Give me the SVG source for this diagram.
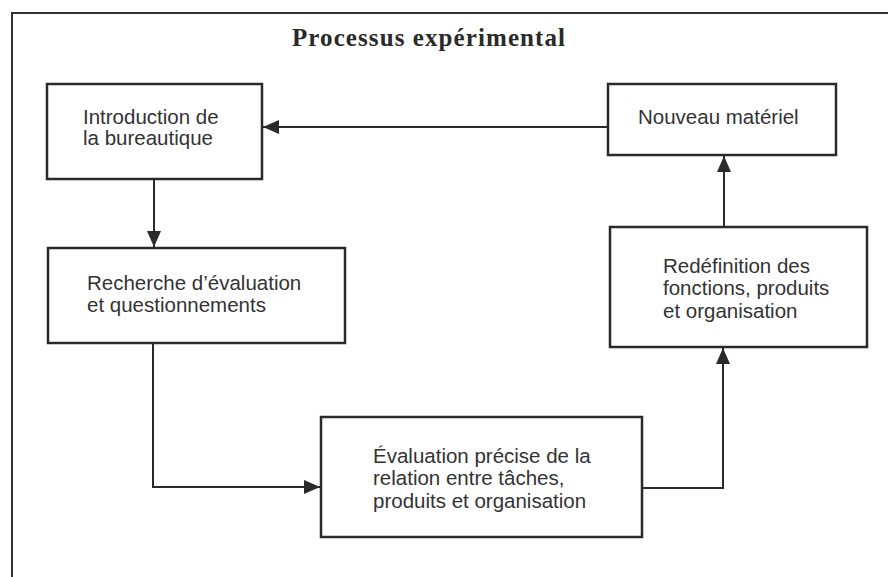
<svg xmlns="http://www.w3.org/2000/svg" width="888" height="577" viewBox="0 0 888 577">
  <style>
    .box { fill: #ffffff; stroke: #2a2a2a; stroke-width: 2.5; }
    .lbl { font-family: "Liberation Sans", Arial, Helvetica, sans-serif; font-size: 20.5px; fill: #333333; }
    .title { font-family: "Liberation Serif", "Times New Roman", serif; font-size: 25px; font-weight: bold; fill: #2a2a2a; }
    .conn { fill: none; stroke: #2a2a2a; stroke-width: 2; }
    .frame { fill: none; stroke: #333333; stroke-width: 2; }
  </style>
  <defs>
    <marker id="arrow" viewBox="0 0 16 14" refX="16" refY="7" markerWidth="16" markerHeight="14" markerUnits="userSpaceOnUse" orient="auto">
      <path d="M0,0 L16,7 L0,14 Z" fill="#2a2a2a"/>
    </marker>
  </defs>
  <rect x="0" y="0" width="888" height="577" fill="#ffffff"/>
  <path class="frame" d="M12,577 V13 H888"/>
  <text class="title" x="292" y="46" textLength="273" lengthAdjust="spacing">Processus expérimental</text>

  <g id="connectors">
    <path class="conn" d="M608,127 H263" marker-end="url(#arrow)"/>
    <path class="conn" d="M154,180 V247" marker-end="url(#arrow)"/>
    <path class="conn" d="M153,344 V487 H320" marker-end="url(#arrow)"/>
    <path class="conn" d="M643,488 H723 V348" marker-end="url(#arrow)"/>
    <path class="conn" d="M724,227 V156" marker-end="url(#arrow)"/>
  </g>

  <g id="node-introduction">
    <rect class="box" x="47" y="84" width="215" height="95"/>
    <text class="lbl" x="83" y="124">Introduction de</text>
    <text class="lbl" x="83" y="145">la bureautique</text>
  </g>

  <g id="node-nouveau">
    <rect class="box" x="608" y="84" width="228" height="71"/>
    <text class="lbl" x="638" y="124">Nouveau matériel</text>
  </g>

  <g id="node-recherche">
    <rect class="box" x="48" y="248" width="297" height="95"/>
    <text class="lbl" x="87" y="290">Recherche d’évaluation</text>
    <text class="lbl" x="87" y="312">et questionnements</text>
  </g>

  <g id="node-redefinition">
    <rect class="box" x="610" y="227" width="257" height="120"/>
    <text class="lbl" x="663" y="273">Redéfinition des</text>
    <text class="lbl" x="663" y="295">fonctions, produits</text>
    <text class="lbl" x="663" y="318">et organisation</text>
  </g>

  <g id="node-evaluation">
    <rect class="box" x="321" y="417" width="321" height="120"/>
    <text class="lbl" x="373" y="463">Évaluation précise de la</text>
    <text class="lbl" x="373" y="485">relation entre tâches,</text>
    <text class="lbl" x="373" y="508">produits et organisation</text>
  </g>
</svg>
